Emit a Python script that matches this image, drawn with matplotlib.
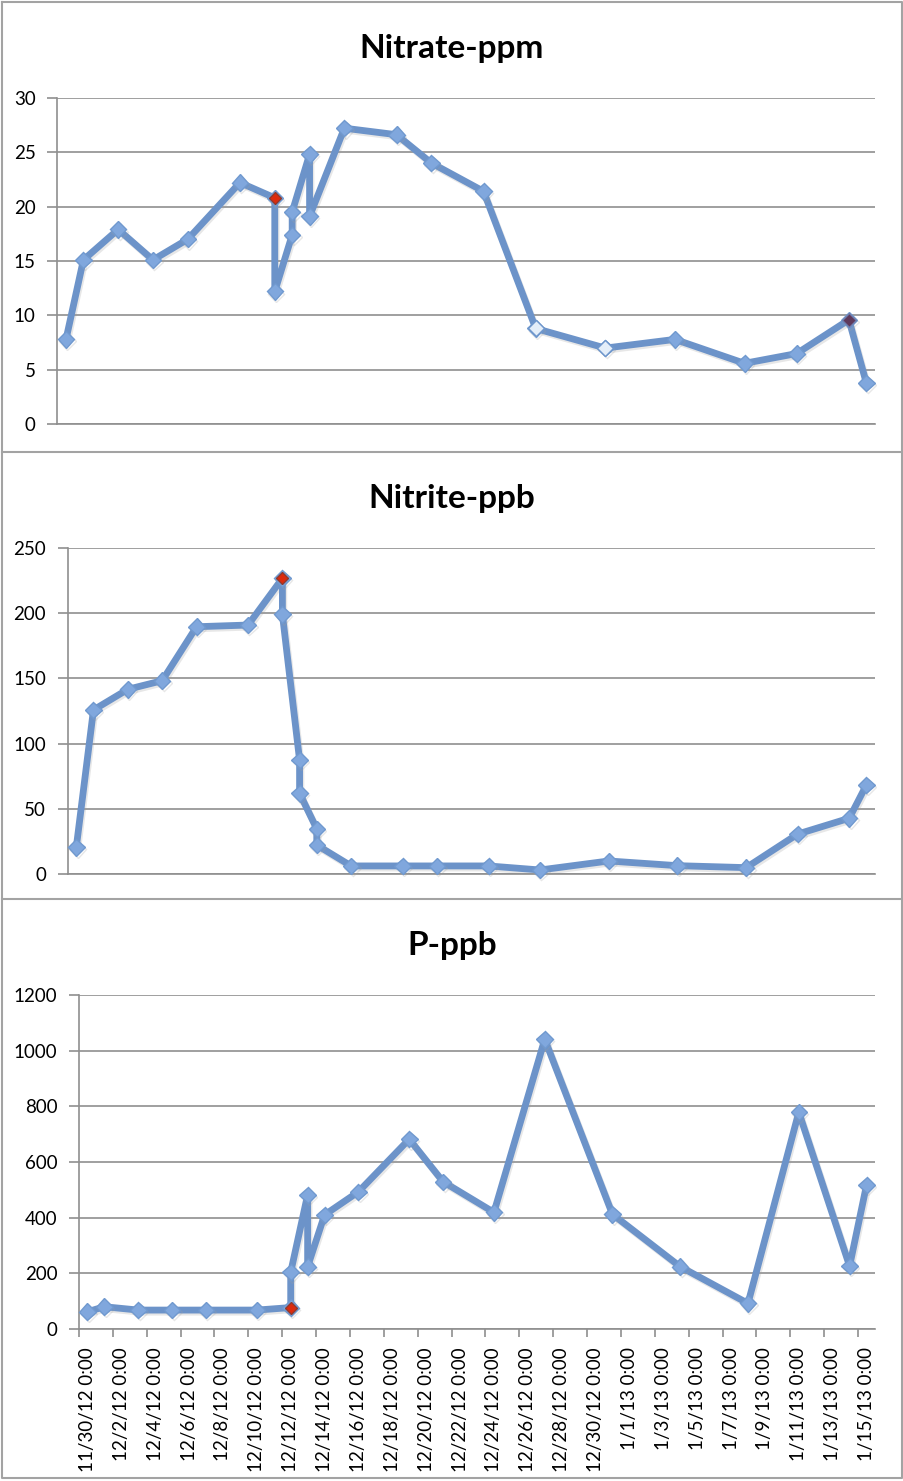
import matplotlib
matplotlib.use('Agg')
import matplotlib.pyplot as plt
import matplotlib.dates as mdates
import matplotlib.patheffects as pe
from matplotlib.lines import Line2D
import numpy as np
import datetime as dt

# ---------------- data ----------------
nitrate_dates = ['2012-11-30', '2012-12-01', '2012-12-03', '2012-12-05', '2012-12-07',
                 '2012-12-10', '2012-12-12', '2012-12-12', '2012-12-13', '2012-12-13',
                 '2012-12-14', '2012-12-14', '2012-12-16', '2012-12-19', '2012-12-21',
                 '2012-12-24', '2012-12-27', '2012-12-31', '2013-01-04', '2013-01-08',
                 '2013-01-11', '2013-01-14', '2013-01-15']
nitrate_ppm = [7.8, 15.1, 17.9, 15.1, 17.0, 22.2, 20.8, 12.2, 17.4, 19.5, 24.8, 19.1,
               27.2, 26.6, 24.0, 21.4, 8.8, 7.0, 7.8, 5.6, 6.5, 9.6, 3.8]

nitrite_dates = list(nitrate_dates)
nitrite_ppb = [20.7, 125.8, 141.6, 148.2, 189.5, 190.8, 226.6, 199.0, 87.5, 62.0, 34.7,
               22.4, 6.4, 6.4, 6.4, 6.4, 3.3, 10.2, 6.6, 5.1, 30.8, 42.9, 68.4]

p_dates = ['2012-11-30', '2012-12-01', '2012-12-03', '2012-12-05', '2012-12-07',
           '2012-12-10', '2012-12-12', '2012-12-12', '2012-12-13', '2012-12-13',
           '2012-12-14', '2012-12-16', '2012-12-19', '2012-12-21', '2012-12-24',
           '2012-12-27', '2012-12-31', '2013-01-04', '2013-01-08', '2013-01-11',
           '2013-01-14', '2013-01-15']
p_ppb = [62, 80, 68, 68, 68, 68, 77, 204, 482, 224, 410, 493, 682, 529, 419, 1041,
         412, 224, 92, 779, 226, 517]

x_tick_labels = ['11/30/12 0:00', '12/2/12 0:00', '12/4/12 0:00', '12/6/12 0:00',
                 '12/8/12 0:00', '12/10/12 0:00', '12/12/12 0:00', '12/14/12 0:00',
                 '12/16/12 0:00', '12/18/12 0:00', '12/20/12 0:00', '12/22/12 0:00',
                 '12/24/12 0:00', '12/26/12 0:00', '12/28/12 0:00', '12/30/12 0:00',
                 '1/1/13 0:00', '1/3/13 0:00', '1/5/13 0:00', '1/7/13 0:00',
                 '1/9/13 0:00', '1/11/13 0:00', '1/13/13 0:00', '1/15/13 0:00']

nitrate_yticks = [0, 5, 10, 15, 20, 25, 30]
nitrite_yticks = [0, 50, 100, 150, 200, 250]
p_yticks = [0, 200, 400, 600, 800, 1000, 1200]

titles = ['Nitrate-ppm', 'Nitrite-ppb', 'P-ppb']

# ---------------- style ----------------
plt.rcParams['font.family'] = ['Lato', 'DejaVu Sans']
W, H = 904, 1481
LINE_C = '#6C93C9'
MFC = '#80A7DD'
MEC = '#7099CF'
GRID_C = '#8F8F8F'
BORDER_C = '#A3A3A3'

fig = plt.figure(figsize=(W / 100, H / 100), dpi=100)


def rect(x0, x1, ytop, ybot):
    return [x0 / W, 1 - ybot / H, (x1 - x0) / W, (ybot - ytop) / H]


def to_num(dates):
    return mdates.date2num([dt.datetime.strptime(d, '%Y-%m-%d') for d in dates])


label_pos = mdates.date2num([dt.datetime.strptime(s, '%m/%d/%y %H:%M') for s in x_tick_labels])
all_x = np.concatenate([to_num(nitrate_dates), to_num(nitrite_dates), to_num(p_dates)])
xmin, xmax = all_x.min() - 0.5, all_x.max() + 0.5

panels = [
    dict(dates=nitrate_dates, vals=nitrate_ppm, yt=nitrate_yticks, left=57.3, top=97.7, bot=424.3,
         title_y=57.7, special={6: ('#DC2B0E', '#8E3A30', 6.5), 16: ('#E4EEF9', '#6F97CC', 8.2),
                                 17: ('#E4EEF9', '#6F97CC', 8.2), 21: ('#5E3A5C', '#6F7FAF', 7.6)}),
    dict(dates=nitrite_dates, vals=nitrite_ppb, yt=nitrite_yticks, left=67.7, top=547.7, bot=874.3,
         title_y=507.7, special={6: ('#DC2B0E', '#8E3A30', 6.5)}),
    dict(dates=p_dates, vals=p_ppb, yt=p_yticks, left=79.0, top=995.0, bot=1329.0,
         title_y=954.7, special={6: ('#DC2B0E', '#8E3A30', 6.5)}),
]

shadow = [pe.SimpleLineShadow(offset=(1.0, -1.5), shadow_color='#A0A0A0', alpha=0.25), pe.Normal()]

for i, pnl in enumerate(panels):
    ax = fig.add_axes(rect(pnl['left'], 875.0, pnl['top'], pnl['bot']))
    x = to_num(pnl['dates'])
    y = np.array(pnl['vals'], dtype=float)
    ax.plot(x, y, color=LINE_C, lw=4.9, marker='D', ms=8.4, mfc=MFC, mec=MEC, mew=1.0,
            zorder=3, clip_on=False, solid_joinstyle='round', path_effects=shadow)
    for idx, (fc, ec, ms) in pnl['special'].items():
        ax.plot([x[idx]], [y[idx]], linestyle='none', marker='D', ms=ms, mfc=fc, mec=ec,
                mew=1.0, zorder=4, clip_on=False)
    ax.set_xlim(xmin, xmax)
    ax.set_ylim(pnl['yt'][0], pnl['yt'][-1])
    ax.set_yticks(pnl['yt'])
    ax.yaxis.grid(True, color=GRID_C, lw=1.2)
    ax.set_axisbelow(True)
    for s in ['top', 'right']:
        ax.spines[s].set_visible(False)
    for s in ['left', 'bottom']:
        ax.spines[s].set_color(GRID_C)
        ax.spines[s].set_linewidth(1.2)
    ax.tick_params(axis='y', direction='out', length=7, width=1.2, color=GRID_C,
                   labelsize=13.5, pad=8.5, labelcolor='black')
    if i < 2:
        ax.set_xticks([])
    else:
        ax.set_xticks(label_pos - 0.5)
        ax.set_xticklabels([])
        ax.set_xticks(label_pos, minor=True)
        ax.set_xticklabels(x_tick_labels, minor=True, rotation=90)
        ax.tick_params(axis='x', which='major', direction='out', length=6, width=1.2, color=GRID_C)
        ax.tick_params(axis='x', which='minor', length=0, pad=13, labelsize=13.5)
    ax.patch.set_alpha(0)
    fig.text(452 / W, 1 - pnl['title_y'] / H, titles[i], ha='center', va='baseline',
             fontsize=24, fontweight='bold')

# chart borders
def fline(xs, ys):
    fig.add_artist(Line2D([v / W for v in xs], [1 - v / H for v in ys], color=BORDER_C, lw=1.5,
                          transform=fig.transFigure))

fline([2, 902, 902, 2, 2], [2, 2, 1478, 1478, 2])
fline([2, 902], [452, 452])
fline([2, 902], [899, 899])

fig.savefig('out.png', dpi=100)
